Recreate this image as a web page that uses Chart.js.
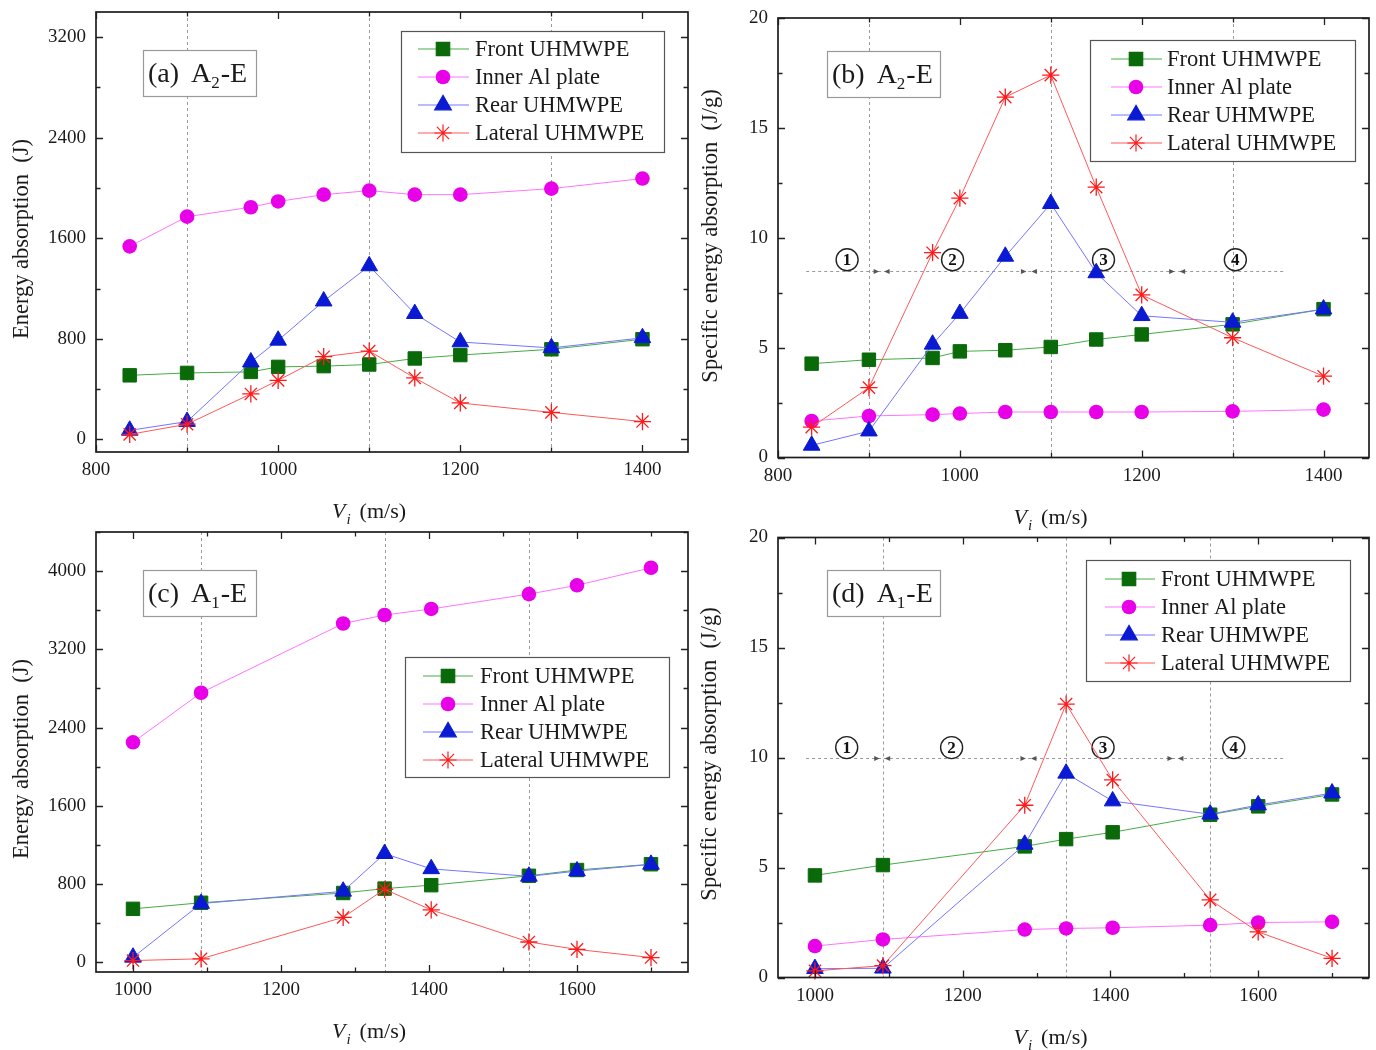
<!DOCTYPE html>
<html><head><meta charset="utf-8">
<script src="https://cdn.jsdelivr.net/npm/chart.js@4/dist/chart.umd.min.js"></script>
<style>
html,body{margin:0;padding:0;background:#fff}
body{width:1376px;height:1050px;position:relative;overflow:hidden}
canvas{position:absolute}
</style></head><body>
<canvas id="pa"></canvas><canvas id="pb"></canvas><canvas id="pc"></canvas><canvas id="pd"></canvas>
<script>
// ---------- DATA ----------
const seriesNames = ['Front UHMWPE', 'Inner Al plate', 'Rear UHMWPE', 'Lateral UHMWPE'];

// A2-E
const velA2 = [837, 900, 970, 1000, 1050, 1100, 1150, 1200, 1300, 1400];
const energyA2Front   = [510, 529, 537, 577, 583, 596, 644, 671, 717, 797];
const energyA2Inner   = [1536, 1772, 1847, 1893, 1947, 1979, 1947, 1947, 1995, 2075];
const energyA2Rear    = [72, 142, 615, 788, 1100, 1380, 1000, 775, 728, 808];
const energyA2Lateral = [40, 121, 362, 470, 658, 703, 489, 290, 215, 142];
const specA2Front   = [4.27, 4.45, 4.53, 4.83, 4.88, 5.03, 5.37, 5.6, 6.06, 6.75];
const specA2Inner   = [1.66, 1.89, 1.95, 2.0, 2.07, 2.07, 2.07, 2.07, 2.1, 2.18];
const specA2Rear    = [0.55, 1.2, 5.15, 6.55, 9.15, 11.55, 8.4, 6.45, 6.15, 6.75];
const specA2Lateral = [1.38, 3.18, 9.32, 11.8, 16.4, 17.4, 12.3, 7.4, 5.45, 3.7];

// A1-E
const velA1 = [1000, 1092, 1284, 1340, 1403, 1535, 1600, 1700];
const energyA1Front   = [546, 608, 708, 753, 788, 884, 943, 1002];
const energyA1Inner   = [2249, 2756, 3464, 3551, 3613, 3765, 3855, 4034];
const energyA1Rear    = [50, 600, 725, 1110, 955, 878, 932, 1000];
const energyA1Lateral = [17, 35, 459, 746, 535, 207, 131, 48];
const specA1Front   = [4.64, 5.11, 5.96, 6.29, 6.6, 7.4, 7.78, 8.32];
const specA1Inner   = [1.43, 1.73, 2.18, 2.23, 2.26, 2.38, 2.5, 2.53];
const specA1Rear    = [0.4, 0.42, 6.05, 9.28, 8.02, 7.42, 7.84, 8.38];
const specA1Lateral = [0.3, 0.54, 7.83, 12.43, 8.98, 3.53, 2.07, 0.87];

// tick labels
const ticksVelA2 = [800, 1000, 1200, 1400];
const ticksVelA1 = [1000, 1200, 1400, 1600];
const ticksEnergyA2 = [0, 800, 1600, 2400, 3200];
const ticksEnergyA1 = [0, 800, 1600, 2400, 3200, 4000];
const ticksSpec = [0, 5, 10, 15, 20];

// vertical dashed dividers
const dividersA2 = [900, 1100, 1300];
const dividersA1 = [1092, 1340, 1535];

// region annotations (circled stage numbers)
const regionLabels = ['1', '2', '3', '4'];
const regionLabelXA2 = [876, 992, 1158, 1303];
const regionArrowXA2 = [914, 1076, 1239];
const regionSpanA2 = [831, 1359];
const regionLevelA2 = 8.5;
const regionLabelLevelA2 = 9.0;
const regionLabelXA1 = [1043, 1185, 1390, 1567];
const regionArrowXA1 = [1091, 1289, 1488];
const regionSpanA1 = [988, 1636];
const regionLevelA1 = 10;
const regionLabelLevelA1 = 10.45;

// titles
const yTitleEnergy = 'Energy absorption  (J)';
const yTitleSpec = 'Specific energy absorption  (J/g)';

// ---------- STYLE ----------
const markerColors = ['#0a6a0a', '#e800e8', '#0a1ad2', '#ff1a1a'];
const lineColors   = ['#46ab46', '#ff74ff', '#7474ff', '#ff5858'];
const markerStyles = ['rect', 'circle', 'triangle', 'star'];
const markerRadius = [9.5, 7.3, 9.6, 8.6];
const SERIF = '"Liberation Serif", "Times New Roman", serif';

function drawMarker(ctx, style, x, y, r, color) {
  ctx.save();
  ctx.fillStyle = color; ctx.strokeStyle = color; ctx.lineWidth = 1.2;
  ctx.beginPath();
  if (style === 'rect') {
    const s = r * Math.SQRT1_2; ctx.rect(x - s, y - s, 2 * s, 2 * s); ctx.fill(); ctx.stroke();
  } else if (style === 'circle') {
    ctx.arc(x, y, r, 0, Math.PI * 2); ctx.fill();
  } else if (style === 'triangle') {
    for (let k = 0; k < 3; k++) {
      const a = k * 2 * Math.PI / 3;
      const px = x + Math.sin(a) * r, py = y - Math.cos(a) * r;
      if (k === 0) ctx.moveTo(px, py); else ctx.lineTo(px, py);
    }
    ctx.closePath(); ctx.fill(); ctx.stroke();
  } else if (style === 'star') {
    for (let k = 0; k < 4; k++) {
      const a = k * Math.PI / 4;
      ctx.moveTo(x - Math.cos(a) * r, y - Math.sin(a) * r);
      ctx.lineTo(x + Math.cos(a) * r, y + Math.sin(a) * r);
    }
    ctx.stroke();
  }
  ctx.restore();
}

function makePanel(P) {
  const cv = document.getElementById(P.id);
  cv.width = P.w; cv.height = P.h;
  cv.style.left = P.left + 'px'; cv.style.top = P.top + 'px';
  cv.style.width = P.w + 'px'; cv.style.height = P.h + 'px';
  const ox = P.left, oy = P.top;

  const datasets = P.series.map((vals, k) => ({
    label: seriesNames[k],
    data: P.x.map((xv, i) => ({ x: xv, y: vals[i] })),
    borderColor: lineColors[k],
    borderWidth: 1,
    pointStyle: markerStyles[k],
    pointRadius: markerRadius[k],
    pointBackgroundColor: markerColors[k],
    pointBorderColor: markerColors[k],
    pointBorderWidth: markerStyles[k] === 'star' ? 1.3 : (markerStyles[k] === 'circle' ? 0 : 1),
    fill: false, tension: 0, order: 4 - k, clip: false
  }));

  const plugin = {
    id: 'deco_' + P.id,
    beforeDatasetsDraw(chart) {
      const { ctx, chartArea: ca, scales: { x, y } } = chart;
      ctx.save();
      ctx.strokeStyle = '#9a9a9a'; ctx.lineWidth = 1; ctx.setLineDash([3, 3]);
      P.dividers.forEach(v => {
        const px = Math.round(x.getPixelForValue(v)) + 0.5;
        ctx.beginPath(); ctx.moveTo(px, ca.top); ctx.lineTo(px, ca.bottom); ctx.stroke();
      });
      if (P.region) {
        const R = P.region;
        const py = Math.round(y.getPixelForValue(R.level)) + 0.5;
        ctx.beginPath(); ctx.moveTo(x.getPixelForValue(R.span[0]), py); ctx.lineTo(x.getPixelForValue(R.span[1]), py); ctx.stroke();
        ctx.setLineDash([]);
        ctx.fillStyle = '#555';
        R.arrows.forEach(v => {
          const px = x.getPixelForValue(v);
          ctx.beginPath(); ctx.moveTo(px - 2.5, py); ctx.lineTo(px - 8, py - 2.5); ctx.lineTo(px - 8, py + 2.5); ctx.closePath(); ctx.fill();
          ctx.beginPath(); ctx.moveTo(px + 2.5, py); ctx.lineTo(px + 8, py - 2.5); ctx.lineTo(px + 8, py + 2.5); ctx.closePath(); ctx.fill();
        });
        const ly = y.getPixelForValue(R.labelLevel);
        R.labels.forEach((t, i) => {
          const lx = x.getPixelForValue(R.labelX[i]);
          ctx.strokeStyle = '#222'; ctx.lineWidth = 1.4;
          ctx.beginPath(); ctx.arc(lx, ly, 11, 0, Math.PI * 2); ctx.stroke();
          ctx.fillStyle = '#111'; ctx.font = 'bold 17px ' + SERIF;
          ctx.textAlign = 'center'; ctx.textBaseline = 'middle';
          ctx.fillText(t, lx, ly + 1);
        });
      }
      ctx.restore();
    },
    afterDatasetsDraw(chart) {
      const { ctx, chartArea: ca, scales: { x, y } } = chart;
      ctx.save();
      // ticks (inward, all four sides)
      ctx.strokeStyle = '#222'; ctx.lineWidth = 1.3;
      const seq = (min, max, step) => { const a = []; for (let v = Math.ceil(min / step - 1e-9) * step; v <= max + 1e-9; v += step) a.push(+v.toFixed(6)); return a; };
      seq(P.xmin, P.xmax, P.xminor).forEach(v => {
        const px = Math.round(x.getPixelForValue(v)) + 0.5;
        const len = P.xticks.includes(v) ? 7 : 4.5;
        ctx.beginPath();
        ctx.moveTo(px, ca.bottom); ctx.lineTo(px, ca.bottom - len);
        ctx.moveTo(px, ca.top); ctx.lineTo(px, ca.top + len);
        ctx.stroke();
      });
      seq(P.ymin, P.ymax, P.yminor).forEach(v => {
        const py = Math.round(y.getPixelForValue(v)) + 0.5;
        const len = P.yticks.includes(v) ? 7 : 4.5;
        ctx.beginPath();
        ctx.moveTo(ca.left, py); ctx.lineTo(ca.left + len, py);
        ctx.moveTo(ca.right, py); ctx.lineTo(ca.right - len, py);
        ctx.stroke();
      });
      // frame
      ctx.lineWidth = 1.7; ctx.strokeStyle = '#1e1e1e';
      ctx.strokeRect(ca.left, ca.top, ca.right - ca.left, ca.bottom - ca.top);

      // legend
      const L = P.legend;
      ctx.fillStyle = '#fff';
      ctx.fillRect(L.box[0] - ox, L.box[1] - oy, L.box[2], L.box[3]);
      ctx.strokeStyle = '#555'; ctx.lineWidth = 1.2;
      ctx.strokeRect(L.box[0] - ox + 0.5, L.box[1] - oy + 0.5, L.box[2], L.box[3]);
      chart.data.datasets.forEach((ds, k) => {
        const yy = L.rows[k] - oy;
        ctx.strokeStyle = ds.borderColor; ctx.lineWidth = 1;
        ctx.beginPath(); ctx.moveTo(L.line[0] - ox, yy); ctx.lineTo(L.line[1] - ox, yy); ctx.stroke();
        drawMarker(ctx, ds.pointStyle, L.mark - ox, yy, ds.pointRadius, ds.pointBackgroundColor);
        ctx.fillStyle = '#1a1a1a'; ctx.font = '22.5px ' + SERIF;
        ctx.textAlign = 'left'; ctx.textBaseline = 'middle';
        ctx.fillText(ds.label, L.text - ox, yy + 1);
      });

      // tag box
      const T = P.tagBox;
      ctx.fillStyle = '#fff';
      ctx.fillRect(T[0] - ox, T[1] - oy, T[2], T[3]);
      ctx.strokeStyle = '#999'; ctx.lineWidth = 1.2;
      ctx.strokeRect(T[0] - ox + 0.5, T[1] - oy + 0.5, T[2], T[3]);
      const bl = T[1] - oy + T[3] / 2 + 9;
      let tx = T[0] - ox + 5;
      ctx.fillStyle = '#1a1a1a'; ctx.textAlign = 'left'; ctx.textBaseline = 'alphabetic';
      ctx.font = '28px ' + SERIF;
      ctx.fillText(P.tag[0], tx, bl); tx += ctx.measureText(P.tag[0]).width + 12;
      ctx.fillText('A', tx, bl); tx += ctx.measureText('A').width;
      ctx.font = '17px ' + SERIF;
      ctx.fillText(P.tag[1], tx, bl + 6); tx += ctx.measureText(P.tag[1]).width + 1;
      ctx.font = '28px ' + SERIF;
      ctx.fillText('-E', tx, bl);
      ctx.restore();
    },
    afterDraw(chart) {
      const { ctx, chartArea: ca } = chart;
      ctx.save();
      ctx.fillStyle = '#1a1a1a';
      // x title
      const cx = (ca.left + ca.right) / 2 - 23;
      const base = ca.bottom + 66;
      ctx.font = 'italic 22px ' + SERIF; const wV = ctx.measureText('V').width;
      ctx.font = 'italic 15px ' + SERIF; const wi = ctx.measureText('i').width;
      ctx.font = '22px ' + SERIF; const wm = ctx.measureText('(m/s)').width;
      const gap = 9;
      let xx = cx - (wV + 1 + wi + gap + wm) / 2;
      ctx.textAlign = 'left'; ctx.textBaseline = 'alphabetic';
      ctx.font = 'italic 22px ' + SERIF; ctx.fillText('V', xx, base); xx += wV + 1;
      ctx.font = 'italic 15px ' + SERIF; ctx.fillText('i', xx, base + 6); xx += wi + gap;
      ctx.font = '22px ' + SERIF; ctx.fillText('(m/s)', xx, base);
      // y title
      ctx.translate(P.yTitlePos[0] - ox, P.yTitlePos[1] - oy);
      ctx.rotate(-Math.PI / 2);
      ctx.font = '22.5px ' + SERIF; ctx.textAlign = 'center'; ctx.textBaseline = 'middle';
      ctx.fillText(P.yTitle, 0, 0);
      ctx.restore();
    }
  };

  const tickFont = { family: SERIF, size: 19 };
  new Chart(cv, {
    type: 'line',
    data: { datasets },
    options: {
      responsive: false, animation: false, events: [],
      layout: { autoPadding: false, padding: { left: 0, top: P.padTop, right: P.padRight, bottom: 0 } },
      plugins: { legend: { display: false }, tooltip: { enabled: false } },
      scales: {
        x: {
          type: 'linear', min: P.xmin, max: P.xmax,
          grid: { display: false, drawTicks: false }, border: { display: false },
          ticks: { font: tickFont, color: '#1a1a1a', padding: 7, maxRotation: 0, autoSkip: false, callback: v => String(v) },
          afterBuildTicks: s => { s.ticks = P.xticks.map(v => ({ value: v })); },
          afterFit: s => { s.height = P.xH; s.paddingLeft = 0; s.paddingRight = 0; s.paddingTop = 0; s.paddingBottom = 0; }
        },
        y: {
          type: 'linear', min: P.ymin, max: P.ymax,
          grid: { display: false, drawTicks: false }, border: { display: false },
          ticks: { font: tickFont, color: '#1a1a1a', padding: 10, autoSkip: false, callback: v => String(v) },
          afterBuildTicks: s => { s.ticks = P.yticks.map(v => ({ value: v })); },
          afterFit: s => { s.width = P.yW; s.paddingTop = 0; s.paddingBottom = 0; s.paddingLeft = 0; s.paddingRight = 0; }
        }
      }
    },
    plugins: [plugin]
  });
}

makePanel({
  id: 'pa', left: 0, top: 0, w: 690, h: 532, padTop: 12, padRight: 2, yW: 96, xH: 80,
  x: velA2, series: [energyA2Front, energyA2Inner, energyA2Rear, energyA2Lateral],
  xmin: 800, xmax: 1450, ymin: -100, ymax: 3400, xticks: ticksVelA2, yticks: ticksEnergyA2, xminor: 100, yminor: 400,
  dividers: dividersA2, region: null,
  legend: { box: [401, 31, 263, 121], rows: [49, 77, 105, 133], line: [418, 469], mark: 443, text: 475 },
  tagBox: [143, 50, 113, 46], tag: ['(a)', '2'],
  yTitle: yTitleEnergy, yTitlePos: [22, 239]
});
makePanel({
  id: 'pb', left: 690, top: 0, w: 686, h: 532, padTop: 18, padRight: 7, yW: 88, xH: 74.5,
  x: velA2, series: [specA2Front, specA2Inner, specA2Rear, specA2Lateral],
  xmin: 800, xmax: 1450, ymin: 0, ymax: 20, xticks: ticksVelA2, yticks: ticksSpec, xminor: 100, yminor: 2.5,
  dividers: dividersA2,
  region: { level: regionLevelA2, labelLevel: regionLabelLevelA2, span: regionSpanA2, arrows: regionArrowXA2, labels: regionLabels, labelX: regionLabelXA2 },
  legend: { box: [1090, 40, 265, 121], rows: [59, 87, 115, 143], line: [1111, 1162], mark: 1136, text: 1167 },
  tagBox: [827, 51, 113, 46], tag: ['(b)', '2'],
  yTitle: yTitleSpec, yTitlePos: [711, 236]
});
makePanel({
  id: 'pc', left: 0, top: 522, w: 690, h: 528, padTop: 10, padRight: 2, yW: 96, xH: 78,
  x: velA1, series: [energyA1Front, energyA1Inner, energyA1Rear, energyA1Lateral],
  xmin: 950, xmax: 1750, ymin: -100, ymax: 4400, xticks: ticksVelA1, yticks: ticksEnergyA1, xminor: 100, yminor: 400,
  dividers: dividersA1, region: null,
  legend: { box: [405, 657, 264, 120], rows: [676, 704, 732, 760], line: [423, 473], mark: 448, text: 480 },
  tagBox: [143, 570, 113, 46], tag: ['(c)', '1'],
  yTitle: yTitleEnergy, yTitlePos: [22, 759]
});
makePanel({
  id: 'pd', left: 690, top: 522, w: 686, h: 528, padTop: 15.5, padRight: 7, yW: 88, xH: 72.5,
  x: velA1, series: [specA1Front, specA1Inner, specA1Rear, specA1Lateral],
  xmin: 950, xmax: 1750, ymin: 0, ymax: 20, xticks: ticksVelA1, yticks: ticksSpec, xminor: 100, yminor: 2.5,
  dividers: dividersA1,
  region: { level: regionLevelA1, labelLevel: regionLabelLevelA1, span: regionSpanA1, arrows: regionArrowXA1, labels: regionLabels, labelX: regionLabelXA1 },
  legend: { box: [1086, 560, 264, 121], rows: [579, 607, 635, 663], line: [1105, 1155], mark: 1129, text: 1161 },
  tagBox: [827, 570, 113, 46], tag: ['(d)', '1'],
  yTitle: yTitleSpec, yTitlePos: [710, 754]
});
</script>
</body></html>
